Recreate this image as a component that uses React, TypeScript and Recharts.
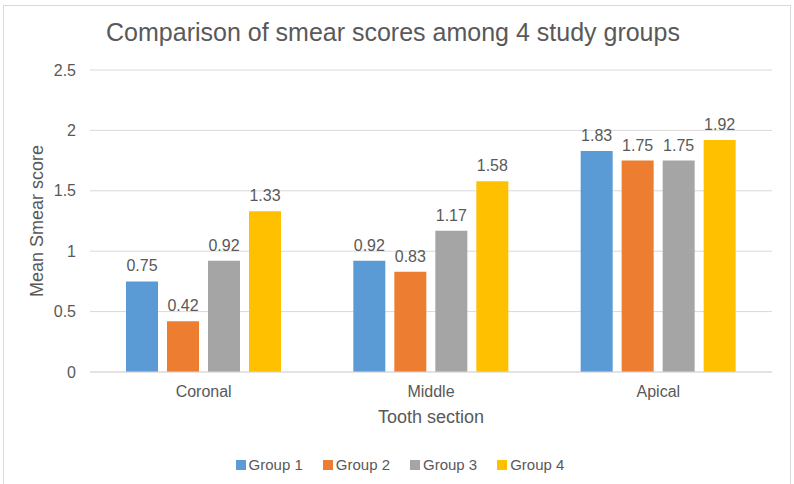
import { Bar, BarChart, CartesianGrid, LabelList, XAxis, YAxis } from "recharts";

const sections = ["Coronal", "Middle", "Apical"];
const groups = ["Group 1", "Group 2", "Group 3", "Group 4"];
const colors = ["#5B9BD5", "#ED7D31", "#A5A5A5", "#FFC000"];

const group1 = [0.75, 0.92, 1.83];
const group2 = [0.42, 0.83, 1.75];
const group3 = [0.92, 1.17, 1.75];
const group4 = [1.33, 1.58, 1.92];

const yTicks = [0, 0.5, 1, 1.5, 2, 2.5];

const seriesValues = [group1, group2, group3, group4];

const data = sections.map((section, i) => {
  const row: Record<string, string | number> = { section };
  groups.forEach((g, j) => {
    row[g] = seriesValues[j][i];
  });
  return row;
});

const FONT = "'Liberation Sans', Arial, sans-serif";
const TEXT = "#595959";

function Legend() {
  return (
    <div
      style={{
        position: "absolute",
        top: 456,
        left: 0,
        width: 794,
        display: "flex",
        justifyContent: "center",
        paddingLeft: 6,
        boxSizing: "border-box",
        fontFamily: FONT,
        fontSize: 15,
        color: TEXT,
      }}
    >
      {groups.map((g, i) => (
        <div
          key={g}
          style={{ display: "flex", alignItems: "center", marginRight: i < 3 ? 20 : 0 }}
        >
          <span
            style={{
              display: "inline-block",
              width: 10,
              height: 10,
              background: colors[i],
              marginRight: 3,
            }}
          />
          {g}
        </div>
      ))}
    </div>
  );
}

export default function App() {
  return (
    <div
      style={{
        position: "absolute",
        left: 0,
        top: 0,
        width: 794,
        height: 484,
        overflow: "hidden",
        background: "#fff",
        fontFamily: FONT,
      }}
    >
      <div
        style={{
          position: "absolute",
          left: 3,
          top: 5,
          width: 786,
          height: 500,
          border: "1px solid #D9D9D9",
        }}
      />
      <div
        style={{
          position: "absolute",
          top: 18,
          left: 0,
          width: 786,
          textAlign: "center",
          fontSize: 25,
          color: TEXT,
        }}
      >
        Comparison of smear scores among 4 study groups
      </div>
      <div style={{ position: "absolute", left: 0, top: 0 }}>
        <BarChart
          width={794}
          height={484}
          data={data}
          margin={{ top: 70, right: 22, left: 0, bottom: 0 }}
          barSize={32}
          barGap={9}
        >
          <CartesianGrid vertical={false} stroke="#D9D9D9" />
          <XAxis
            dataKey="section"
            height={112}
            axisLine={{ stroke: "#D9D9D9" }}
            tickLine={false}
            tickMargin={8}
            tick={{ fontSize: 16, fill: TEXT, fontFamily: FONT }}
            label={{
              content: ({ viewBox }: any) => (
                <text
                  x={viewBox.x + viewBox.width / 2}
                  y={viewBox.y + 51}
                  textAnchor="middle"
                  fontSize={18}
                  fill={TEXT}
                  fontFamily={FONT}
                >
                  Tooth section
                </text>
              ),
            }}
          />
          <YAxis
            width={90}
            domain={[0, 2.5]}
            ticks={yTicks}
            axisLine={false}
            tickLine={false}
            tickMargin={8}
            tick={{ fontSize: 16, fill: TEXT, fontFamily: FONT }}
            label={{
              content: ({ viewBox }: any) => {
                const cx = 43;
                const cy = viewBox.y + viewBox.height / 2;
                return (
                  <text
                    x={cx}
                    y={cy}
                    transform={`rotate(-90 ${cx} ${cy})`}
                    textAnchor="middle"
                    fontSize={18}
                    fill={TEXT}
                    fontFamily={FONT}
                  >
                    Mean Smear score
                  </text>
                );
              },
            }}
          />
          {groups.map((g, i) => (
            <Bar key={g} dataKey={g} fill={colors[i]} isAnimationActive={false}>
              <LabelList
                dataKey={g}
                position="top"
                offset={10}
                fontSize={16}
                fill={TEXT}
                fontFamily={FONT}
              />
            </Bar>
          ))}
        </BarChart>
      </div>
      <Legend />
    </div>
  );
}
